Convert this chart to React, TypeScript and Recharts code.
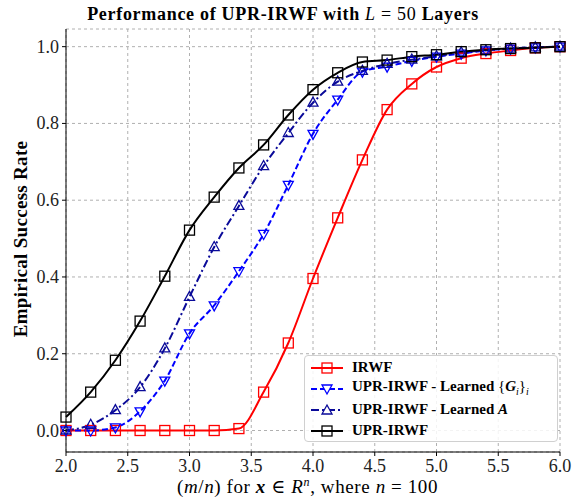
import React from 'react';
import { LineChart, Line, XAxis, YAxis, CartesianGrid } from 'recharts';

const ratios = [2.0, 2.2, 2.4, 2.6, 2.8, 3.0, 3.2, 3.4, 3.6, 3.8, 4.0, 4.2, 4.4, 4.6, 4.8, 5.0, 5.2, 5.4, 5.6, 5.8, 6.0];
const irwf = [0, 0, 0, 0, 0, 0, 0, 0.005, 0.1, 0.228, 0.396, 0.554, 0.705, 0.836, 0.903, 0.947, 0.97, 0.982, 0.99, 0.997, 1.0];
const learnedG = [0, 0, 0.008, 0.05, 0.13, 0.253, 0.326, 0.415, 0.512, 0.64, 0.773, 0.862, 0.935, 0.948, 0.963, 0.974, 0.982, 0.99, 0.995, 0.998, 1.0];
const learnedA = [0, 0.015, 0.053, 0.113, 0.214, 0.348, 0.478, 0.585, 0.689, 0.775, 0.854, 0.909, 0.937, 0.955, 0.966, 0.975, 0.985, 0.99, 0.995, 0.998, 1.0];
const uprIrwf = [0.035, 0.1, 0.183, 0.285, 0.402, 0.522, 0.608, 0.684, 0.744, 0.822, 0.888, 0.932, 0.96, 0.965, 0.974, 0.979, 0.987, 0.992, 0.995, 0.997, 1.0];

const xTicks = [2.0, 2.5, 3.0, 3.5, 4.0, 4.5, 5.0, 5.5, 6.0];
const yTicks = [0, 0.2, 0.4, 0.6, 0.8, 1.0];

const data = ratios.map((r, i) => ({
  r,
  irwf: irwf[i],
  learnedG: learnedG[i],
  learnedA: learnedA[i],
  upr: uprIrwf[i],
}));

const SERIF = '"Liberation Serif", "DejaVu Serif", serif';
const RED = '#ff0000';
const BLUE = '#0000ff';
const NAVY = '#0a0a99';

const square = (color: string) => (p: any) => (
  <rect key={p.index} x={p.cx - 5} y={p.cy - 5} width={10} height={10} fill="none" stroke={color} strokeWidth={1.3} />
);
const triDown = (color: string) => (p: any) => (
  <path key={p.index} d={`M${p.cx - 5},${p.cy - 3.5} L${p.cx + 5},${p.cy - 3.5} L${p.cx},${p.cy + 5.5} Z`} fill="none" stroke={color} strokeWidth={1.3} />
);
const triUp = (color: string) => (p: any) => (
  <path key={p.index} d={`M${p.cx - 5},${p.cy + 3.5} L${p.cx + 5},${p.cy + 3.5} L${p.cx},${p.cy - 5.5} Z`} fill="none" stroke={color} strokeWidth={1.3} />
);

const XTick = (p: any) => (
  <text x={p.x} y={p.y + 14} textAnchor="middle" fontFamily={SERIF} fontSize={18} fill="#222">
    {Number(p.payload.value).toFixed(1)}
  </text>
);
const YTick = (p: any) => (
  <text x={p.x - 1} y={p.y + 6} textAnchor="end" fontFamily={SERIF} fontSize={18} fill="#222">
    {Number(p.payload.value).toFixed(1)}
  </text>
);

const subStyle = { fontSize: 10, fontWeight: 'normal' as const, fontStyle: 'italic' as const };

const legendItems = [
  { color: RED, dash: undefined, marker: 'sq', label: <>IRWF</> },
  { color: BLUE, dash: '6 3', marker: 'down', label: <>UPR-IRWF - Learned <span style={{ fontWeight: 'normal' }}>{'{'}</span><i>G</i><sub style={subStyle}>i</sub><span style={{ fontWeight: 'normal' }}>{'}'}</span><sub style={subStyle}>i</sub></> },
  { color: NAVY, dash: '8 3 2 3', marker: 'up', label: <>UPR-IRWF - Learned <i>A</i></> },
  { color: '#000', dash: undefined, marker: 'sq', label: <>UPR-IRWF</> },
];

function LegendBox() {
  return (
    <div style={{ position: 'absolute', left: 304, top: 355, width: 247, height: 84, border: '1px solid #d0d0d0', borderRadius: 4, background: 'rgba(255,255,255,0.85)', padding: '1px 0 0 5px', fontFamily: SERIF, fontWeight: 'bold', fontSize: 15, lineHeight: '21px' }}>
      {legendItems.map((it, i) => (
        <div key={i} style={{ display: 'flex', alignItems: 'center', height: 21 }}>
          <svg width={34} height={14} style={{ marginRight: 8 }}>
            <line x1={1} y1={7} x2={33} y2={7} stroke={it.color} strokeWidth={2} strokeDasharray={it.dash} />
            {it.marker === 'sq' && <rect x={12} y={2} width={10} height={10} fill="none" stroke={it.color} strokeWidth={1.3} />}
            {it.marker === 'down' && <path d="M12,3 L22,3 L17,12 Z" fill="white" stroke={it.color} strokeWidth={1.3} />}
            {it.marker === 'up' && <path d="M12,11 L22,11 L17,2 Z" fill="white" stroke={it.color} strokeWidth={1.3} />}
          </svg>
          <span style={{ whiteSpace: 'nowrap' }}>{it.label}</span>
        </div>
      ))}
    </div>
  );
}

export default function App() {
  return (
    <div style={{ position: 'absolute', left: 0, top: 0, width: 573, height: 499, background: '#fff' }}>
      <div style={{ position: 'absolute', top: 4, left: 283, transform: 'translateX(-50%)', fontFamily: SERIF, fontWeight: 'bold', fontSize: 18, letterSpacing: 0.7, whiteSpace: 'nowrap' }}>
        Performance of UPR-IRWF with <i style={{ fontWeight: 'normal' }}>L</i> <span style={{ fontWeight: 'normal' }}>= 50</span> Layers
      </div>
      <div style={{ position: 'absolute', left: 20, top: 239, lineHeight: 1, transform: 'translate(-50%, -50%) rotate(-90deg)', whiteSpace: 'nowrap', fontFamily: SERIF, fontWeight: 'bold', fontSize: 19, letterSpacing: 0.3 }}>
        Empirical Success Rate
      </div>
      <div style={{ position: 'absolute', top: 477, left: 177, lineHeight: 1, whiteSpace: 'nowrap', fontFamily: SERIF, fontSize: 19, letterSpacing: 0.6 }}>
        (<i>m</i>/<i>n</i>) for <b><i>x</i></b> ∈ <i>R</i><sup style={{ fontSize: 12, fontStyle: 'italic', lineHeight: 0 }}>n</sup>, where <i>n</i> = 100
      </div>
      <LineChart width={573} height={499} data={data} margin={{ top: 29, right: 13, bottom: 0, left: 0 }}>
        <CartesianGrid stroke="#b0b0b0" strokeDasharray="3 3" />
        <XAxis
          dataKey="r"
          type="number"
          domain={[2, 6]}
          ticks={xTicks}
          height={47}
          stroke="#000"
          tick={<XTick />}
          tickSize={4}
        />
        <XAxis xAxisId="top" dataKey="r" type="number" domain={[2, 6]} orientation="top" tick={false} height={0} stroke="#000" />
        <YAxis
          type="number"
          domain={[-0.056, 1.046]}
          ticks={yTicks}
          width={66}
          stroke="#000"
          tick={<YTick />}
          tickSize={4}
          allowDataOverflow
        />
        <YAxis yAxisId="right" orientation="right" tick={false} width={0} stroke="#000" domain={[0, 1]} />
        <Line dataKey="irwf" type="monotone" stroke={RED} strokeWidth={2} dot={square(RED)} isAnimationActive={false} />
        <Line dataKey="learnedG" type="monotone" stroke={BLUE} strokeWidth={2} strokeDasharray="6 3" dot={triDown(BLUE)} isAnimationActive={false} />
        <Line dataKey="learnedA" type="monotone" stroke={NAVY} strokeWidth={2} strokeDasharray="8 3 2 3" dot={triUp(NAVY)} isAnimationActive={false} />
        <Line dataKey="upr" type="monotone" stroke="#000" strokeWidth={2} dot={square('#000')} isAnimationActive={false} />
      </LineChart>
      <LegendBox />
    </div>
  );
}
